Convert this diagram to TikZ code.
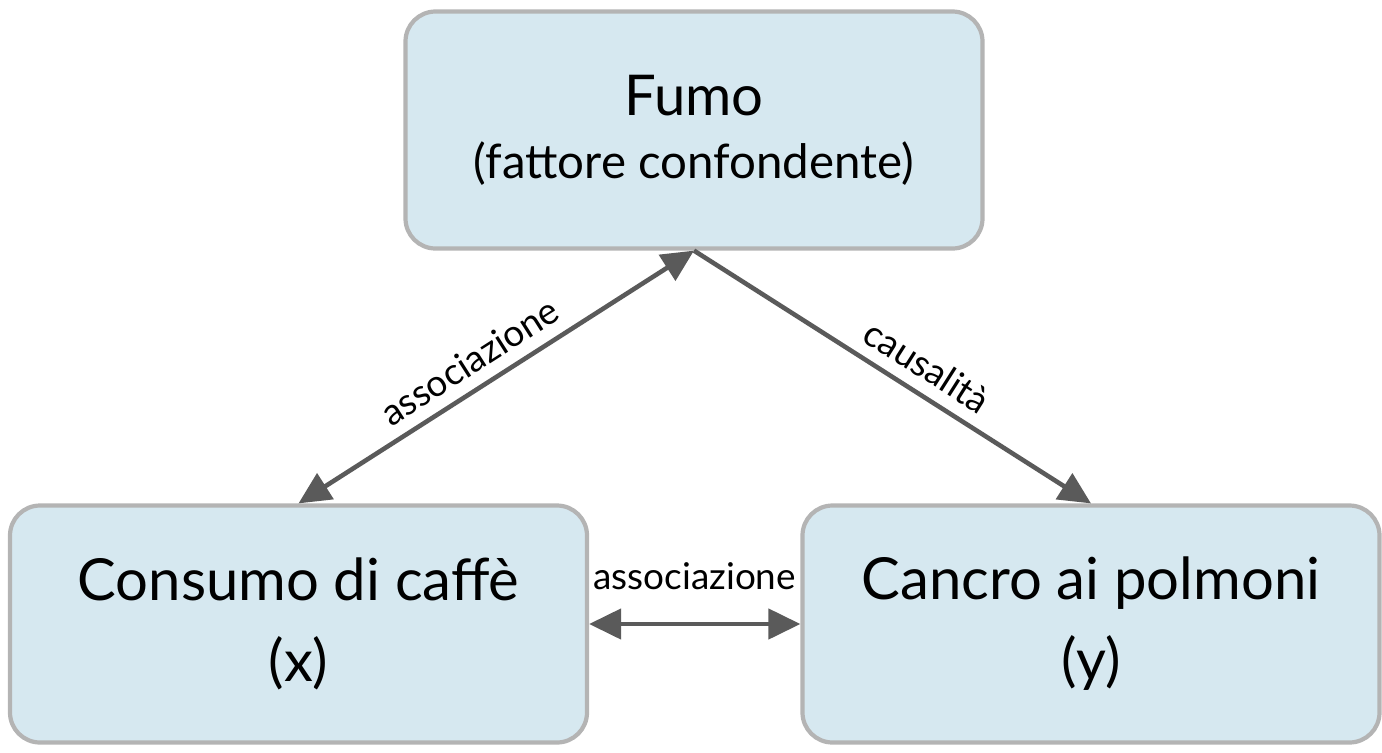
\documentclass[tikz,border=0pt]{standalone}
\usepackage{fontspec}
\setmainfont{Lato}
\usetikzlibrary{arrows.meta}
\definecolor{boxfill}{HTML}{D6E8F0}
\definecolor{boxline}{HTML}{B4B4B4}
\definecolor{arrowgray}{HTML}{5A5A5A}
\begin{document}
\begin{tikzpicture}[
  box/.style={draw=boxline, line width=1.2pt, fill=boxfill, rounded corners=0.3cm,
    minimum width=5.77cm, minimum height=2.37cm, align=center},
  link/.style={draw=arrowgray, line width=1.3pt, -{Triangle[length=0.32cm,width=0.3cm]}},
  lab/.style={font=\fontsize{10.5}{12}\selectfont, sloped, above}
]
\useasboundingbox (0,0) rectangle (13.82,7.52);

\node[box] (smoke) at (6.94,6.22) {{\fontsize{16}{20}\selectfont Fumo}\\[6pt]{\fontsize{13.5}{16}\selectfont (fattore confondente)}};
\node[box, font=\fontsize{16.5}{23}\selectfont] (coffee) at (2.985,1.28) {Consumo di caffè\\(x)};
\node[box, font=\fontsize{16.5}{23}\selectfont] (cancer) at (10.91,1.28) {Cancro ai polmoni\\(y)};

\draw[link, {Triangle[length=0.32cm,width=0.3cm]}-{Triangle[length=0.32cm,width=0.3cm]}] (coffee.north) -- node[lab, pos=0.47] {associazione} (smoke.south);
\draw[link] (smoke.south) -- node[lab, pos=0.55] {causalità} (cancer.north);
\draw[link, {Triangle[length=0.32cm,width=0.3cm]}-{Triangle[length=0.32cm,width=0.3cm]}] (coffee.east) -- node[font=\fontsize{10.5}{12}\selectfont, above=0.2cm] {associazione} (cancer.west);
\end{tikzpicture}
\end{document}
